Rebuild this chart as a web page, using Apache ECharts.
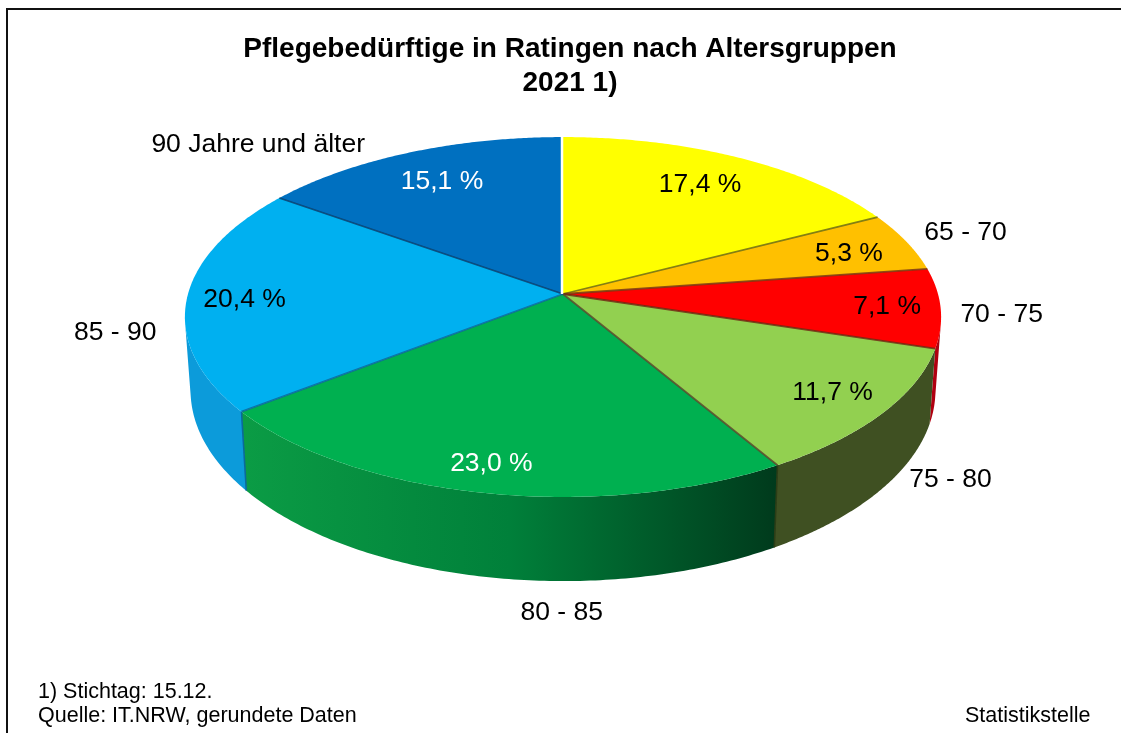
<!DOCTYPE html>
<html>
<head>
<meta charset="utf-8">
<style>html,body{margin:0;padding:0;background:#fff}#c{width:1121px;height:733px}</style>
<script src="https://cdn.jsdelivr.net/npm/echarts@6/dist/echarts.min.js"></script>
</head>
<body>
<div id="c"></div>
<script>
// Data
const categories = ['', '65 - 70', '70 - 75', '75 - 80', '80 - 85', '85 - 90', '90 Jahre und älter'];
const shares = [17.4, 5.3, 7.1, 11.7, 23.0, 20.4, 15.1];
const shareLabels = ['17,4 %', '5,3 %', '7,1 %', '11,7 %', '23,0 %', '20,4 %', '15,1 %'];

// Styles
const topColors = ['#FFFF00', '#FFC000', '#FF0000', '#92D050', '#00B050', '#00B0F0', '#0070C0'];
const sideColors = ['#8c8c00', '#a87f00', '#B00010', '#3F5022',
  [[0, '#0B9C45'], [0.5, '#00803A'], [1, '#003A1C']], '#0C9BDA', '#005a9c'];
const edgeColors = ['#6d6d10', '#7a3a10', '#6d2a10', '#5a4a2a', '#0b6a9a', '#06406e'];
const shareTextColors = ['#000', '#000', '#000', '#000', '#fff', '#000', '#fff'];

// Perspective disc layout
const CX = 563, CY = 294, RX = 375, RY = 177, PERSP = 0.1278;
const DEPTH = 72, BOTTOM_SCALE_X = 0.985, BOTTOM_SCALE_Y = 1.06;
const shareLabelOffset = [[7, -8], [36, -2], [53, 3], [45, 15], [-16, 32], [-48, 3], [-7, -8]];
const nameLabelOffset = [[0, 0], [59, -9], [61, 7], [68, 66], [79, 120], [-72, 35], [-151, -8]];
const FONT = '"Liberation Sans", Arial, sans-serif';

const total = shares.reduce((a, b) => a + b, 0);
const bounds = [];
shares.reduce((acc, v, i) => { bounds[i] = [acc, acc + v]; return acc + v; }, 0);
const angle = p => p / total * 2 * Math.PI;
function project(r, th) {
  const X = r * Math.sin(th), Y = r * Math.cos(th), w = 1 + PERSP * Y;
  return [CX + RX * X / w, CY - RY * Y / w];
}
function lower(p) {
  return [CX + (p[0] - CX) * BOTTOM_SCALE_X, CY + (p[1] - CY) * BOTTOM_SCALE_Y + DEPTH];
}
function rim(i) {
  const a = angle(bounds[i][0]), b = angle(bounds[i][1]), n = 120, pts = [];
  for (let k = 0; k <= n; k++) pts.push(project(1, a + (b - a) * k / n));
  return pts;
}
function fillOf(c, x0, x1) {
  return Array.isArray(c)
    ? new echarts.graphic.LinearGradient(x0, 0, x1, 0, c.map(s => ({ offset: s[0], color: s[1] })), true)
    : c;
}
function signedArea(pts) {
  let s = 0;
  pts.forEach((p, j) => { const q = pts[(j + 1) % pts.length]; s += p[0] * q[1] - q[0] * p[1]; });
  return s;
}
const indexData = shares.map((v, i) => [i, v]);

function renderSide(params, api) {
  const i = api.value(0), top = rim(i);
  // keep only the part of the wall that faces the viewer
  const upper = [], low = [];
  for (let k = 0; k < top.length - 1; k++) {
    const a = top[k], b = top[k + 1];
    if (signedArea([a, b, lower(b), lower(a)]) < 0) {
      if (!upper.length) { upper.push(a); low.push(lower(a)); }
      upper.push(b); low.push(lower(b));
    }
  }
  if (!upper.length) return { type: 'group', children: [] };
  const xs = upper.concat(low).map(p => p[0]);
  return {
    type: 'polygon',
    shape: { points: upper.concat(low.reverse()) },
    style: { fill: fillOf(sideColors[i], Math.min(...xs), Math.max(...xs)) }
  };
}
function renderTop(params, api) {
  const i = api.value(0);
  return {
    type: 'polygon',
    shape: { points: [[CX, CY]].concat(rim(i)) },
    style: { fill: topColors[i] }
  };
}
function renderEdges(params, api) {
  const i = api.value(0), th = angle(bounds[i][1]);
  const end = project(1, th), children = [];
  if (i < shares.length - 1) {
    children.push({
      type: 'line', shape: { x1: CX, y1: CY, x2: end[0], y2: end[1] },
      style: { stroke: edgeColors[i], lineWidth: 1.8, opacity: 0.85 }
    });
    const low = lower(end);
    if (end[1] > CY + 80) {
      children.push({
        type: 'line', shape: { x1: end[0], y1: end[1], x2: low[0], y2: low[1] },
        style: { stroke: i === 4 ? '#0b6a9a' : '#2c3d16', lineWidth: 1.6 }
      });
    }
  } else {
    children.push({
      type: 'line', shape: { x1: end[0] - 1, y1: end[1] - 2, x2: CX - 1, y2: CY },
      style: { stroke: '#ffffff', lineWidth: 2.5 }
    });
  }
  return { type: 'group', children };
}
function renderLabels(params, api) {
  const i = api.value(0);
  const mid = angle((bounds[i][0] + bounds[i][1]) / 2);
  const a = project(0.72, mid), b = project(1, mid);
  return {
    type: 'group',
    children: [{
      type: 'text',
      style: {
        x: a[0] + shareLabelOffset[i][0], y: a[1] + shareLabelOffset[i][1],
        text: shareLabels[i], fill: shareTextColors[i], font: '26.5px ' + FONT,
        align: 'center', verticalAlign: 'middle'
      }
    }, {
      type: 'text',
      style: {
        x: b[0] + nameLabelOffset[i][0], y: b[1] + nameLabelOffset[i][1],
        text: categories[i], fill: '#000', font: '26.5px ' + FONT,
        align: 'center', verticalAlign: 'middle'
      }
    }]
  };
}
const layer = (z, renderItem) => ({
  type: 'custom', coordinateSystem: 'none', data: indexData, z, renderItem,
  silent: true, animation: false, clip: false
});
const chart = echarts.init(document.getElementById('c'), null, { renderer: 'canvas' });
chart.setOption({
  animation: false,
  backgroundColor: '#fff',
  title: [
    { text: 'Pflegebedürftige in Ratingen nach Altersgruppen\n2021 1)', left: 565, top: 27, textAlign: 'center',
      textStyle: { fontFamily: FONT, fontWeight: 'bold', fontSize: 28, lineHeight: 34, color: '#000' } },
    { text: '1) Stichtag: 15.12.\nQuelle: IT.NRW, gerundete Daten', left: 33, top: 675,
      textStyle: { fontFamily: FONT, fontWeight: 'normal', fontSize: 21.5, lineHeight: 24, color: '#000' } },
    { text: 'Statistikstelle', left: 960, top: 699,
      textStyle: { fontFamily: FONT, fontWeight: 'normal', fontSize: 21.5, lineHeight: 24, color: '#000' } }
  ],
  graphic: [{
    type: 'rect', silent: true, z: 1,
    shape: { x: 7, y: 9, width: 1200, height: 800 },
    style: { fill: 'transparent', stroke: '#111', lineWidth: 2 }
  }],
  series: [layer(2, renderSide), layer(3, renderTop), layer(4, renderEdges), layer(5, renderLabels)]
});
</script>
</body>
</html>
